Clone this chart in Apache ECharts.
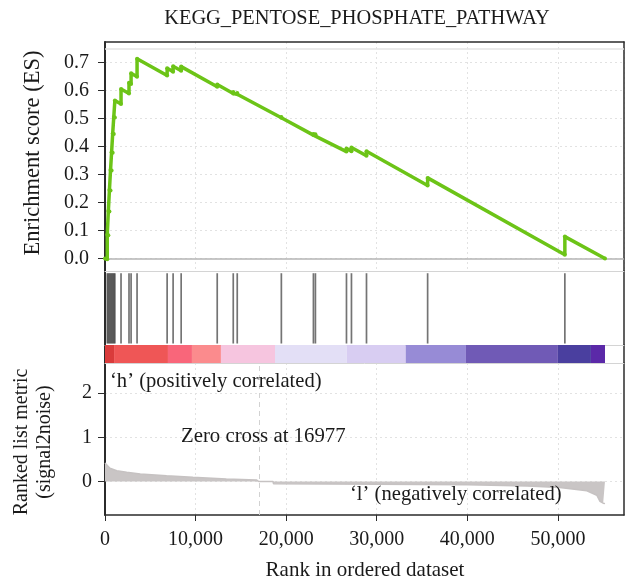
<!DOCTYPE html>
<html><head><meta charset="utf-8">
<script src="https://cdn.jsdelivr.net/npm/echarts@6/dist/echarts.min.js"></script>
<style>html,body{margin:0;padding:0;background:#fff}#c{width:631px;height:586px}</style>
</head><body><div id="c"></div>
<script>
// ---------------- data ----------------
const chartTitle = 'KEGG_PENTOSE_PHOSPHATE_PATHWAY';
const xTicks = [0, 10000, 20000, 30000, 40000, 50000];
const esTicks = [0, 0.1, 0.2, 0.3, 0.4, 0.5, 0.6, 0.7];
const metricTicks = [0, 1, 2];
const zeroCross = 16977;

// running enrichment score (rank, ES) read at each hit (before / after the step)
const esRanks = [0, 250, 250, 370, 370, 490, 490, 610, 610, 730, 730, 850, 850, 970, 970, 1090, 1090,
  1770, 1770, 2650, 2650, 2880, 2880, 3540, 3540,
  6860, 6860, 7520, 7520, 8410, 8410, 12390, 12390, 14160, 14160, 14600, 14600,
  19470, 19470, 23010, 23010, 23230, 23230, 26660, 26660, 27210, 27210, 28870, 28870,
  35620, 35620, 50770, 50770, 55200];
const esValues = [0, -0.003, 0.085, 0.083, 0.17, 0.168, 0.245, 0.243, 0.316, 0.314, 0.38, 0.378, 0.447, 0.445, 0.506, 0.504, 0.565,
  0.552, 0.606, 0.590, 0.628, 0.624, 0.662, 0.650, 0.714,
  0.654, 0.680, 0.668, 0.687, 0.671, 0.686, 0.614, 0.622, 0.590, 0.595, 0.587, 0.592,
  0.503, 0.506, 0.441, 0.445, 0.441, 0.444, 0.382, 0.393, 0.383, 0.397, 0.367, 0.383,
  0.261, 0.288, 0.013, 0.078, 0.0];

// gene set hits (rank positions)
const hitRanks = [250, 370, 490, 610, 730, 850, 970, 1090, 1770, 2650, 2880, 3540, 6860, 7520, 8410,
  12390, 14160, 14600, 19470, 23010, 23230, 26660, 27210, 28870, 35620, 50770];

// colour bar segments
const barStarts = [0, 1000, 6950, 9600, 12800, 18770, 26700, 33200, 39850, 50000, 53650];
const barEnds = [1000, 6950, 9600, 12800, 18770, 26700, 33200, 39850, 50000, 53650, 55200];
const barColors = ['#d93b3b', '#ef5656', '#f9667a', '#fb8b8d', '#f6c5df', '#e3dff6', '#d8cdf2', '#978bd6', '#705ab6', '#4a3f9f', '#5b29a8'];

// ranked list metric (signal2noise)
const metricRanks = [0, 100, 550, 1300, 2400, 3900, 6800, 9700, 13400, 16750, 16977, 18550, 18600,
  30000, 40000, 46600, 50200, 53200, 54300, 54650, 55000, 55200];
const metricValues = [0.42, 0.39, 0.30, 0.244, 0.208, 0.17, 0.131, 0.095, 0.056, 0.034, 0, 0, -0.05,
  -0.06, -0.075, -0.1, -0.135, -0.21, -0.31, -0.45, -0.49, -0.5];

// ---------------- chart ----------------
const FONT = "'Liberation Serif', 'Times New Roman', serif";
const DARK = '#2b2b2b';
const LIGHT = '#d4d4d4';
const GRIDC = '#e2e2e2';
const TXT = '#1a1a1a';
const xMax = 57300;
const L = 105, W = 519;

const chart = echarts.init(document.getElementById('c'), null, {renderer: 'canvas'});

function fmtX(v) { return String(v).replace(/\B(?=(\d{3})+(?!\d))/g, ','); }

const hiddenX = (grid, pos, color, width) => ({
  type: 'value', gridIndex: grid, position: pos, min: 0, max: xMax, interval: 10000,
  axisLine: {show: true, onZero: false, lineStyle: {color: color, width: width}},
  axisTick: {show: false}, axisLabel: {show: false}, splitLine: {show: false}
});
const hiddenY = (grid, pos, min, max, width) => ({
  type: 'value', gridIndex: grid, position: pos, min: min, max: max,
  axisLine: {show: true, onZero: false, lineStyle: {color: DARK, width: width}},
  axisTick: {show: false}, axisLabel: {show: false}, splitLine: {show: false}
});

const option = {
  animation: false,
  backgroundColor: '#fff',
  grid: [
    {left: L, width: W, top: 42, height: 229},
    {left: L, width: W, top: 271, height: 74},
    {left: L, width: W, top: 345, height: 18},
    {left: L, width: W, top: 363, height: 152}
  ],
  xAxis: [
    Object.assign(hiddenX(0, 'bottom', LIGHT, 1), {
      splitLine: {show: true, lineStyle: {color: GRIDC, type: [2, 3], width: 1}}
    }),
    hiddenX(0, 'top', DARK, 1.5),
    hiddenX(1, 'bottom', LIGHT, 1),
    hiddenX(2, 'bottom', LIGHT, 1),
    {
      type: 'value', gridIndex: 3, position: 'bottom', min: 0, max: xMax, interval: 10000,
      axisLine: {show: true, onZero: false, lineStyle: {color: DARK, width: 1.5}},
      axisTick: {show: true, length: 6, lineStyle: {color: DARK}, customValues: xTicks},
      axisLabel: {show: true, customValues: xTicks, formatter: fmtX, margin: 15,
        fontFamily: FONT, fontSize: 20, color: TXT},
      splitLine: {show: true, lineStyle: {color: GRIDC, type: [2, 3], width: 1}}
    }
  ],
  yAxis: [
    {
      type: 'value', gridIndex: 0, position: 'left', min: -0.045, max: 0.774,
      splitNumber: 8, minInterval: 0.1, maxInterval: 0.1,
      axisLine: {show: true, onZero: false, lineStyle: {color: DARK, width: 2}},
      axisTick: {show: true, length: 7, lineStyle: {color: DARK}, customValues: esTicks},
      axisLabel: {show: true, customValues: esTicks, formatter: v => v.toFixed(1), margin: 16,
        fontFamily: FONT, fontSize: 20, color: TXT},
      splitLine: {show: true, lineStyle: {color: GRIDC, type: [2, 3], width: 1}}
    },
    hiddenY(0, 'right', -0.045, 0.774, 1.5),
    hiddenY(1, 'left', 0, 1, 2),
    hiddenY(1, 'right', 0, 1, 1.5),
    hiddenY(2, 'left', 0, 1, 2),
    hiddenY(2, 'right', 0, 1, 1.5),
    {
      type: 'value', gridIndex: 3, position: 'left', min: -0.757, max: 2.678,
      splitNumber: 4, minInterval: 1, maxInterval: 1,
      axisLine: {show: true, onZero: false, lineStyle: {color: DARK, width: 2}},
      axisTick: {show: true, length: 7, lineStyle: {color: DARK}, customValues: metricTicks},
      axisLabel: {show: true, customValues: metricTicks, margin: 13,
        fontFamily: FONT, fontSize: 20, color: TXT},
      splitLine: {show: true, lineStyle: {color: GRIDC, type: [2, 3], width: 1}}
    },
    hiddenY(3, 'right', -0.757, 2.678, 1.5)
  ],
  series: [
    {
      type: 'line', xAxisIndex: 0, yAxisIndex: 0,
      data: esRanks.map((r, i) => [r, esValues[i]]),
      symbol: 'circle', symbolSize: 4, showSymbol: true,
      lineStyle: {color: '#6cc417', width: 3.5},
      itemStyle: {color: '#6cc417'},
      z: 5,
      markLine: {
        silent: true, symbol: 'none', label: {show: false},
        data: [
          {yAxis: 0, lineStyle: {color: '#b5b5b5', width: 1.6, type: 'solid'}},
          {yAxis: 0.751, lineStyle: {color: '#e3e3e3', width: 1.5, type: 'solid'}}
        ]
      }
    },
    {
      type: 'custom', xAxisIndex: 2, yAxisIndex: 2,
      data: hitRanks.map(r => [r, 0.5]),
      encode: {x: 0, y: 1},
      renderItem: function (params, api) {
        const x = api.coord([api.value(0), 0])[0];
        const top = api.coord([0, 0.97])[1];
        const bot = api.coord([0, 0.02])[1];
        return {type: 'line', shape: {x1: x, y1: top, x2: x, y2: bot},
          style: {stroke: 'rgba(30,30,30,0.62)', lineWidth: 1.7}};
      }
    },
    {
      type: 'custom', xAxisIndex: 3, yAxisIndex: 4,
      data: barStarts.map((s, i) => [s, barEnds[i], i]),
      encode: {x: [0, 1]},
      renderItem: function (params, api) {
        const p1 = api.coord([api.value(0), 1]);
        const p2 = api.coord([api.value(1), 0]);
        return {type: 'rect', shape: {x: p1[0], y: p1[1], width: p2[0] - p1[0], height: p2[1] - p1[1]},
          style: {fill: barColors[api.value(2)]}};
      }
    },
    {
      type: 'line', xAxisIndex: 4, yAxisIndex: 6,
      data: metricRanks.map((r, i) => [r, metricValues[i]]),
      showSymbol: false, symbol: 'none',
      lineStyle: {color: '#c6c2c2', width: 1.5},
      areaStyle: {color: '#c9c5c5', opacity: 1},
      markLine: {
        silent: true, symbol: 'none', label: {show: false},
        data: [{xAxis: zeroCross, lineStyle: {color: '#d2d2d2', width: 1, type: [5, 4]}}]
      }
    }
  ],
  graphic: [
    {type: 'text', x: 357, y: 19, z: 100,
      style: {text: chartTitle, font: '20.4px ' + FONT, fill: TXT, align: 'center', verticalAlign: 'middle'}},
    {type: 'text', x: 33, y: 153, rotation: Math.PI / 2, z: 100,
      style: {text: 'Enrichment score (ES)', font: '22.5px ' + FONT, fill: TXT, align: 'center', verticalAlign: 'middle'}},
    {type: 'text', x: 33, y: 442, rotation: Math.PI / 2, z: 100,
      style: {text: 'Ranked list metric\n(signal2noise)', font: '20px ' + FONT, lineHeight: 23, fill: TXT, align: 'center', verticalAlign: 'middle'}},
    {type: 'text', x: 365, y: 570, z: 100,
      style: {text: 'Rank in ordered dataset', font: '21px ' + FONT, fill: TXT, align: 'center', verticalAlign: 'middle'}},
    {type: 'text', x: 110, y: 382, z: 100,
      style: {text: '\u2018h\u2019 (positively correlated)', font: '20.6px ' + FONT, fill: TXT, align: 'left', verticalAlign: 'middle'}},
    {type: 'text', x: 181, y: 437, z: 100,
      style: {text: 'Zero cross at 16977', font: '20.8px ' + FONT, fill: TXT, align: 'left', verticalAlign: 'middle'}},
    {type: 'text', x: 350, y: 495, z: 100,
      style: {text: '\u2018l\u2019 (negatively correlated)', font: '20.6px ' + FONT, fill: TXT, align: 'left', verticalAlign: 'middle'}}
  ]
};
chart.setOption(option);
</script>
</body></html>
